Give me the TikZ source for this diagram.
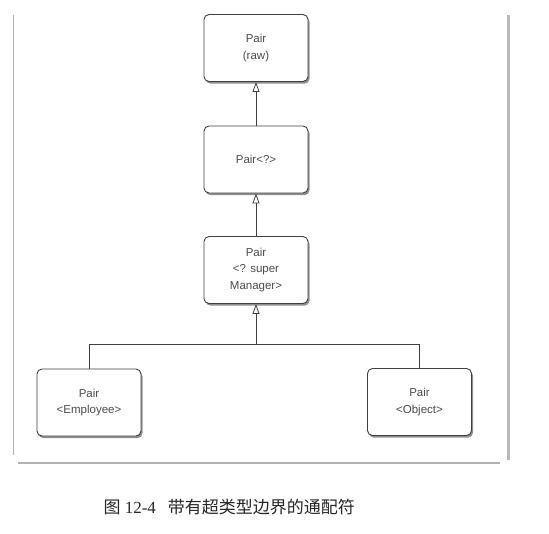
\documentclass[tikz,border=0pt]{standalone}
\usepackage{fontspec}
\setmainfont{Liberation Serif}
\setsansfont{Liberation Sans}
\newfontfamily\cjk{Noto Sans CJK SC}
\usetikzlibrary{arrows.meta,shadows}
\definecolor{boxline}{gray}{0.25}
\definecolor{txt}{gray}{0.3}
\tikzset{
  cls/.style={draw=boxline, line width=0.9pt, rounded corners=5pt, fill=white,
    minimum width=104pt, minimum height=67pt, align=center, inner sep=2pt,
    font=\sffamily\fontsize{11.5}{16.5}\selectfont, text=txt,
    drop shadow={shadow xshift=1.5pt, shadow yshift=-2.2pt, fill=black!55, opacity=0.8}},
  inh/.style={draw=boxline, line width=0.8pt, -{Triangle[open, length=10pt, width=7pt]}},
  link/.style={draw=boxline, line width=0.8pt},
  frame/.style={draw=gray!60}
}
\begin{document}
\begin{tikzpicture}[x=1pt, y=-1pt]
\useasboundingbox (0,0) rectangle (549,533);
% frame
\draw[frame, line width=1pt] (13,15) -- (13,455);
\draw[frame, line width=3pt, draw=gray!55] (508,15) -- (508,460);
\draw[frame, line width=1.5pt] (18,463) -- (500,463);
% boxes
\node[cls] (raw) at (256,48) {Pair\\(raw)};
\node[cls] (any) at (256,159.5) {Pair<?>};
\node[cls] (sup) at (256,270) {Pair\\<? super\\Manager>};
\node[cls] (emp) at (89,402.5) {Pair\\<Employee>};
\node[cls] (obj) at (419.5,402) {Pair\\<Object>};
% connectors
\draw[inh] (any.north) -- (raw.south);
\draw[inh] (sup.north) -- (any.south);
\coordinate (j) at (sup.south |- 0,344);
\coordinate (jl) at (emp.north |- 0,344);
\coordinate (jr) at (obj.north |- 0,344);
\draw[link] (emp.north) -- (jl) -- (jr) -- (obj.north);
\draw[inh] (j) -- (sup.south);
% caption
\node[font=\fontsize{17}{20}\selectfont, text=black!85, anchor=west] (cap) at (100,507)
  {{\cjk 图} 12-4\hspace{12pt}{\cjk 带有超类型边界的通配符}};
\end{tikzpicture}
\end{document}
